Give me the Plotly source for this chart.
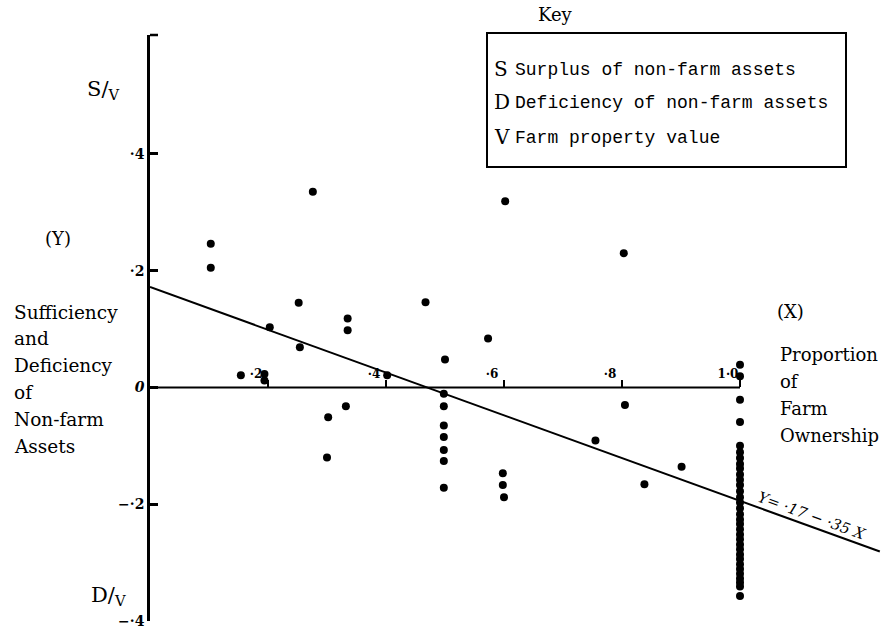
import plotly.graph_objects as go

# ---- data ----
pts_x = [0.103, 0.103, 0.276, 0.252, 0.203, 0.254, 0.335, 0.335,
         0.154, 0.194, 0.194, 0.402, 0.332, 0.302, 0.300,
         0.467, 0.573, 0.500, 0.602,
         0.498, 0.498, 0.498, 0.498, 0.498, 0.498, 0.498,
         0.598, 0.598, 0.600,
         0.803, 0.805, 0.755, 0.901, 0.838]
pts_y = [0.246, 0.205, 0.335, 0.145, 0.103, 0.069, 0.118, 0.098,
         0.021, 0.023, 0.012, 0.021, -0.032, -0.051, -0.120,
         0.146, 0.084, 0.048, 0.319,
         -0.011, -0.032, -0.065, -0.085, -0.107, -0.126, -0.172,
         -0.147, -0.167, -0.188,
         0.230, -0.030, -0.091, -0.136, -0.166]

full_own_y = [0.039, 0.019, -0.021, -0.059, -0.100, -0.111, -0.121, -0.131,
              -0.139, -0.149, -0.158, -0.167, -0.178, -0.188, -0.197, -0.207,
              -0.217, -0.226, -0.234, -0.243, -0.252, -0.260, -0.269, -0.277,
              -0.286, -0.294, -0.303, -0.311, -0.319, -0.327, -0.334, -0.341,
              -0.357]
full_own_x = [1.0] * len(full_own_y)

fit_x = [0.0, 1.237]
fit_y = [0.172, -0.281]

base_x = [0.0, 1.0]
base_y = [0.0, 0.0]

x_ticks = [0.2, 0.4, 0.6, 0.8, 1.0]
x_tick_text = ["<b>·2</b>", "<b>·4</b>", "<b>·6</b>", "<b>·8</b>", "<b>1·0</b>"]
y_ticks = [-0.4, -0.2, 0.0, 0.2, 0.4]
y_tick_text = ["<b>−·4</b>", "<b>−·2</b>", "<b><i>0</i></b>", "<b>·2</b>", "<b>·4</b>"]

key_letters = ["S", "D", "V"]
key_texts = ["Surplus of non-farm assets", "Deficiency of non-farm assets", "Farm property value"]

W, H = 887, 631
L, R, T, B = 150, 0, 35, 10
PW, PH = W - L - R, H - T - B


def px(x):
    return (x - L) / PW


def py(y):
    return (H - B - y) / PH


SERIF = "DejaVu Serif"
MONO = "Liberation Mono"

fig = go.Figure()
fig.add_trace(go.Scatter(x=base_x, y=base_y, mode="lines",
                         line=dict(color="black", width=2), hoverinfo="skip"))
fig.add_trace(go.Scatter(x=fit_x, y=fit_y, mode="lines",
                         line=dict(color="black", width=2), hoverinfo="skip"))
fig.add_trace(go.Scatter(x=pts_x, y=pts_y, mode="markers",
                         marker=dict(color="black", size=8)))
fig.add_trace(go.Scatter(x=full_own_x, y=full_own_y, mode="markers",
                         marker=dict(color="black", size=8)))

ann = []


def text(x, y, s, size=17, font=SERIF, xanchor="left", angle=0):
    ann.append(dict(x=px(x), y=py(y), xref="paper", yref="paper", text=s,
                    showarrow=False, xanchor=xanchor, yanchor="middle",
                    textangle=angle, font=dict(family=font, size=size, color="black")))


text(103, 90, "S/<sub>V</sub>", size=21, xanchor="center")
text(108, 596, "D/<sub>V</sub>", size=21, xanchor="center")
text(58, 239, "(Y)", size=18, xanchor="center")
for i, s in enumerate(["Sufficiency", "and", "Deficiency", "of", "Non-farm", "Assets"]):
    text(12, 312 + i * 26.8, s, size=18.5)
text(790, 311, "(X)", size=18, xanchor="center")
for i, s in enumerate(["Proportion", "of", "Farm", "Ownership"]):
    text(778, 354 + i * 27.3, s, size=18)
text(812, 516, "<i>Y= ·17 − ·35 X</i>", size=15, xanchor="center", angle=20)
text(555, 15, "Key", size=18, xanchor="center")

key_y = [69, 102, 137]
for letter, desc, yy in zip(key_letters, key_texts, key_y):
    text(492, yy, letter, size=20)
    text(513, yy + 1, desc, size=18, font=MONO)

fig.add_shape(type="rect", xref="paper", yref="paper",
              x0=px(487), x1=px(846), y0=py(167), y1=py(33),
              line=dict(color="black", width=2))
# small bracket tick at the top end of the y axis
fig.add_shape(type="line", xref="paper", yref="paper",
              x0=0, x1=px(158), y0=1, y1=1, line=dict(color="black", width=2.5))

fig.update_layout(
    width=W, height=H,
    margin=dict(l=L, r=R, t=T, b=B),
    paper_bgcolor="white", plot_bgcolor="white",
    showlegend=False,
    annotations=ann,
    xaxis=dict(range=[0, PW / 590], showgrid=False, zeroline=False, showline=False,
               anchor="free", position=0.4 / 1.0036, side="top",
               tickvals=x_ticks, ticktext=x_tick_text, ticks="outside",
               ticklen=7, tickwidth=2, tickcolor="black",
               ticklabelshift=-12, ticklabelstandoff=-2,
               tickfont=dict(family=SERIF, size=12, color="black")),
    yaxis=dict(range=[-0.4, 0.6036], showgrid=False, zeroline=False,
               showline=True, linewidth=2.5, linecolor="black",
               tickvals=y_ticks, ticktext=y_tick_text, ticks="inside",
               ticklen=8, tickwidth=2.5, tickcolor="black",
               tickfont=dict(family=SERIF, size=14, color="black")),
)

fig.write_html("out.html", config={"displayModeBar": False},
               post_script="document.body.style.margin='0px';")
